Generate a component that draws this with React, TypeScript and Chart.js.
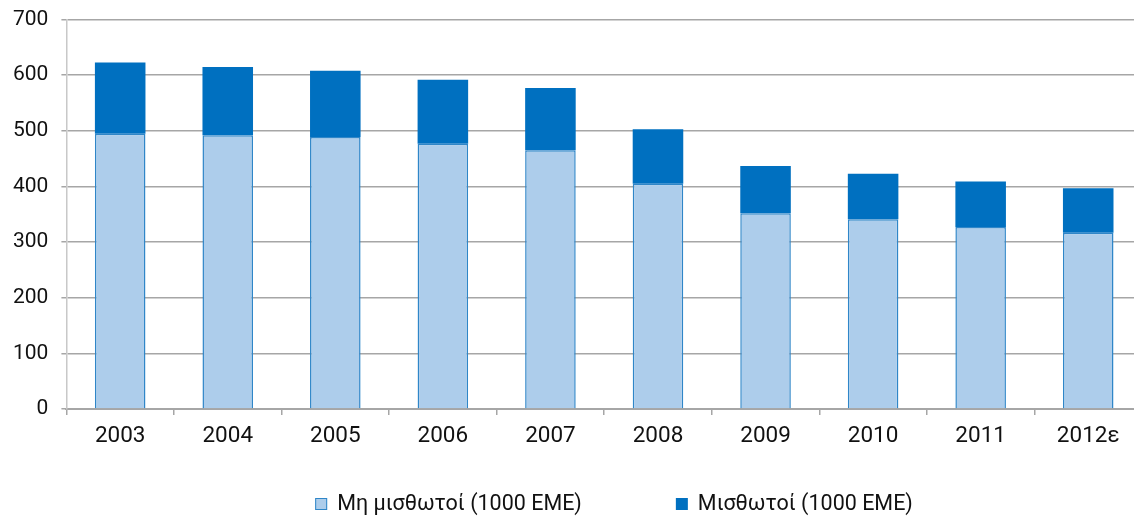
import React, { useEffect, useRef } from "react";
import { Chart, registerables } from "chart.js";

Chart.register(...registerables);

const categories = ["2003", "2004", "2005", "2006", "2007", "2008", "2009", "2010", "2011", "2012ε"];
const nonEmployees = [495, 492, 489, 477, 465, 405, 352, 341, 327, 317];
const employees = [128, 123, 119, 115, 112, 98, 85, 82, 82, 80];
const yTicks = [0, 100, 200, 300, 400, 500, 600, 700];
const seriesNames = ["Μη μισθωτοί (1000 ΕΜΕ)", "Μισθωτοί (1000 ΕΜΕ)"];

const SHIFT = 6;

const legendPlugin = {
  id: "customLegend",
  afterDraw(chart: any) {
    const ctx = chart.ctx as CanvasRenderingContext2D;
    const fontSize = 21.5;
    const box = 12;
    const boxGap = 10;
    const itemGap = 94;
    const centerX = 614;
    const centerY = 504 + SHIFT;
    ctx.save();
    ctx.font = `${fontSize}px Roboto`;
    ctx.textBaseline = "middle";
    ctx.textAlign = "left";
    const items = chart.data.datasets.map((ds: any) => ({
      text: ds.label as string,
      fill: ds.backgroundColor as string,
      stroke: ds.borderColor as string,
      bw: ds.borderWidth as number,
      w: box + boxGap + ctx.measureText(ds.label).width,
    }));
    const total = items.reduce((s: number, it: any) => s + it.w, 0) + itemGap * (items.length - 1);
    let x = centerX - total / 2;
    for (const it of items) {
      ctx.fillStyle = it.fill;
      ctx.fillRect(x, centerY - box / 2, box, box);
      if (it.bw > 0) {
        ctx.strokeStyle = it.stroke;
        ctx.lineWidth = 1;
        ctx.strokeRect(x + 0.5, centerY - box / 2 + 0.5, box - 1, box - 1);
      }
      ctx.fillStyle = "#111";
      ctx.fillText(it.text, x + box + boxGap, centerY + 1);
      x += it.w + itemGap;
    }
    ctx.restore();
  },
};

export default function App() {
  const ref = useRef<HTMLCanvasElement | null>(null);
  useEffect(() => {
    if (!ref.current) return;
    const font = { family: "Roboto", size: 22.5 };
    const yFont = { family: "Roboto", size: 21 };
    const chart = new Chart(ref.current, {
      type: "bar",
      data: {
        labels: categories,
        datasets: [
          {
            label: seriesNames[0],
            data: nonEmployees,
            backgroundColor: "#ADCDEB",
            borderColor: "#2F86C8",
            borderWidth: 1.5,
            barPercentage: 0.47,
            categoryPercentage: 1,
          },
          {
            label: seriesNames[1],
            data: employees,
            backgroundColor: "#0070C0",
            borderColor: "#0070C0",
            borderWidth: 0,
            barPercentage: 0.47,
            categoryPercentage: 1,
          },
        ],
      },
      plugins: [legendPlugin],
      options: {
        animation: false,
        responsive: false,
        maintainAspectRatio: false,
        layout: { padding: { top: 0, right: 0, left: 0, bottom: 58 } },
        plugins: {
          legend: { display: false },
          tooltip: { enabled: false },
        },
        scales: {
          x: {
            stacked: true,
            grid: {
              display: true,
              drawOnChartArea: false,
              offset: true,
              tickLength: 6,
              color: "#A6A6A6",
              lineWidth: 1.5,
            },
            border: { color: "#A6A6A6", width: 2 },
            ticks: { font, color: "#111", padding: 8 },
          },
          y: {
            stacked: true,
            min: 0,
            max: 700,
            afterBuildTicks: (axis: any) => {
              axis.ticks = yTicks.map((v) => ({ value: v }));
            },
            grid: { color: "#A6A6A6", lineWidth: 1.5, tickLength: 5 },
            border: { color: "#C8C8C8", width: 1.5 },
            ticks: { font: yFont, color: "#111", padding: 13 },
          },
        },
      },
    });
    return () => chart.destroy();
  }, []);
  return (
    <div style={{ position: "fixed", left: 0, top: 0, width: 1134, height: 516, background: "#fff", overflow: "hidden" }}>
      <canvas
        ref={ref}
        width={1142}
        height={516 + SHIFT}
        style={{ position: "absolute", left: 0, top: -SHIFT, width: 1142, height: 516 + SHIFT }}
      />
    </div>
  );
}
